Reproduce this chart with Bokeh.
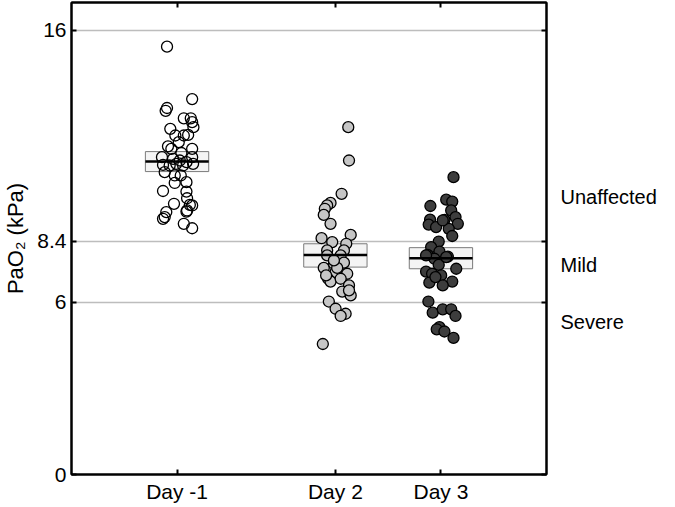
from bokeh.plotting import figure
from bokeh.models import FixedTicker, LinearAxis, Range1d, ColumnDataSource
from bokeh.embed import file_html
from bokeh.resources import INLINE

# ---- data ----
groups = ["Day -1", "Day 2", "Day 3"]
group_pos = [1.0, 2.5, 3.5]

day_m1_vals = [15.41, 13.52, 13.20, 13.10, 12.83, 12.83, 12.69, 12.51, 12.45, 12.21, 12.23, 12.21,
               11.97, 11.82, 11.73, 11.73, 11.58, 11.43, 11.43, 11.37, 11.31, 11.25, 11.15, 11.19,
               11.19, 11.13, 11.13, 10.89, 10.77, 10.77, 10.53, 10.50, 10.21, 10.19, 9.95, 9.75,
               9.71, 9.51, 9.69, 9.45, 9.21, 9.03, 8.87, 9.47, 9.27]
day_m1_jit = [-0.095, 0.143, -0.095, -0.108, 0.064, 0.130, 0.143, 0.155, -0.064, 0.064, 0.105, -0.016,
              0.016, -0.086, 0.143, -0.054, 0.041, -0.143, 0.143, -0.038, 0.026, 0.089, -0.133, 0.152,
              -0.007, -0.070, 0.057, -0.117, -0.022, 0.035, 0.089, -0.022, -0.133, 0.089, 0.095, -0.029,
              0.121, 0.095, 0.143, -0.102, -0.133, 0.064, 0.143, 0.089, -0.117]

day2_vals = [12.51, 11.31, 10.11, 9.78, 9.69, 9.57, 9.35, 9.03, 8.63, 8.51, 8.31, 8.37, 8.07, 8.07,
             7.89, 7.89, 7.44, 7.59, 7.47, 7.63, 7.29, 7.23, 7.05, 6.95, 7.05, 6.81, 6.59, 6.45,
             6.23, 5.97, 5.79, 5.71, 4.70, 7.44, 7.71, 6.63, 7.17]
day2_jit = [0.122, 0.129, 0.059, -0.046, -0.078, -0.100, -0.110, -0.046, 0.145, -0.131, 0.103, -0.030,
            -0.078, 0.081, 0.050, -0.078, -0.110, -0.014, 0.033, 0.081, 0.002, 0.112, -0.069, -0.046,
            0.050, 0.129, 0.065, 0.145, -0.062, 0.002, 0.097, 0.050, -0.119, 0.017, -0.014, 0.129, -0.088]

day3_vals = [10.71, 9.90, 9.83, 9.67, 9.51, 9.27, 9.18, 9.17, 9.00, 9.03, 8.91, 8.85, 9.15, 8.59,
             8.39, 8.19, 8.03, 7.91, 7.85, 7.77, 7.55, 7.41, 7.31, 7.23, 7.17, 6.91, 6.95, 6.81,
             6.23, 5.83, 5.95, 5.95, 5.71, 5.31, 5.23, 5.15, 4.92, 7.11, 7.89, 7.83]
day3_jit = [0.119, 0.050, 0.107, -0.100, 0.097, 0.138, -0.103, 0.033, -0.116, 0.160, -0.046, 0.074,
            0.017, 0.107, -0.021, -0.093, -0.014, -0.126, 0.065, -0.062, -0.021, 0.145, -0.141, -0.084,
            0.002, -0.110, 0.107, 0.017, -0.119, -0.078, 0.017, 0.097, 0.138, -0.014, -0.040, 0.033,
            0.119, -0.052, -0.141, 0.050]

box_q1 = [10.91, 7.47, 7.41]
box_med = [11.27, 7.91, 7.79]
box_q3 = [11.63, 8.31, 8.17]

y_ticks = [0, 6.2, 8.4, 16]
y_tick_labels = ["0", "6", "8.4", "16"]
zone_names = ["Unaffected", "Mild", "Severe"]
zone_label_y = [10.0, 7.55, 5.5]

FONT = "Liberation Sans"

p = figure(width=659, height=505, output_backend="svg", toolbar_location=None,
           x_range=Range1d(0, 4.5), y_range=Range1d(0, 17),
           min_border_left=66, min_border_right=0, min_border_top=2, min_border_bottom=0)
p.background_fill_color = "white"
p.border_fill_color = "white"
p.outline_line_color = "black"
p.outline_line_width = 2

# axes
p.xaxis.ticker = FixedTicker(ticks=group_pos)
p.xaxis.major_label_overrides = {k: v for k, v in zip(group_pos, groups)}
p.yaxis.ticker = FixedTicker(ticks=y_ticks)
p.yaxis.major_label_overrides = {k: v for k, v in zip(y_ticks, y_tick_labels)}
for ax in (p.xaxis[0], p.yaxis[0]):
    ax.axis_line_width = 2
    ax.axis_line_color = "black"
    ax.major_tick_in = 5
    ax.major_tick_out = 0
    ax.major_tick_line_width = 2
    ax.minor_tick_line_color = None
    ax.major_label_text_font = FONT
    ax.major_label_text_font_size = "21px"
    ax.major_label_text_color = "black"
p.xaxis.major_label_standoff = 5
p.yaxis.major_label_standoff = 5
p.yaxis.axis_label = "PaO\u2082 (kPa)"
p.yaxis.axis_label_text_font = FONT
p.yaxis.axis_label_text_font_size = "22px"
p.yaxis.axis_label_text_font_style = "normal"
p.yaxis.axis_label_text_color = "black"
p.yaxis.axis_label_standoff = 6

# mirrored ticks (top / right), no labels
top = LinearAxis(ticker=FixedTicker(ticks=group_pos),
                 major_label_overrides={k: "" for k in group_pos},
                 major_label_standoff=0, major_tick_in=5, major_tick_out=0, major_tick_line_width=2,
                 minor_tick_line_color=None, axis_line_width=2)
right = LinearAxis(ticker=FixedTicker(ticks=y_ticks),
                   major_label_overrides={k: "" for k in y_ticks},
                   major_label_standoff=0, major_tick_in=5, major_tick_out=0, major_tick_line_width=2,
                   minor_tick_line_color=None, axis_line_width=2)
p.add_layout(top, "above")
p.add_layout(right, "right")

# zone names as an outer right axis (labels only)
zones = LinearAxis(ticker=FixedTicker(ticks=zone_label_y),
                   major_label_overrides={k: v for k, v in zip(zone_label_y, zone_names)},
                   major_label_standoff=14, major_tick_in=0, major_tick_out=0,
                   major_tick_line_color=None, minor_tick_line_color=None, axis_line_color=None,
                   major_label_text_font=FONT, major_label_text_font_size="20px",
                   major_label_text_color="black")
p.add_layout(zones, "right")

# grid only at thresholds
p.xgrid.visible = False
p.ygrid.ticker = FixedTicker(ticks=y_ticks[1:])
p.ygrid.grid_line_color = "#bdbdbd"
p.ygrid.grid_line_width = 1.5

# boxes
bw = 0.3
box_src = ColumnDataSource(dict(left=[x - bw for x in group_pos], right=[x + bw for x in group_pos],
                                q1=box_q1, q3=box_q3, med=box_med))
p.quad(left="left", right="right", bottom="q1", top="q3", source=box_src,
       fill_color="#f4f4f4", line_color="#7a7a7a", line_width=1)

# points
series = [
    (day_m1_vals, day_m1_jit, group_pos[0], None),
    (day2_vals, day2_jit, group_pos[1], "#c6c6c6"),
    (day3_vals, day3_jit, group_pos[2], "#3d3d3d"),
]
for vals, jit, pos, fc in series:
    xs = [pos + j for j in jit]
    p.scatter(xs, vals, size=11, marker="circle", fill_color=fc if fc else "white",
              fill_alpha=1 if fc else 0, line_color="black", line_width=1.3)

# medians
p.segment(x0="left", x1="right", y0="med", y1="med", source=box_src, line_color="black", line_width=2.5)

open("out.html", "w").write(file_html(p, INLINE))
